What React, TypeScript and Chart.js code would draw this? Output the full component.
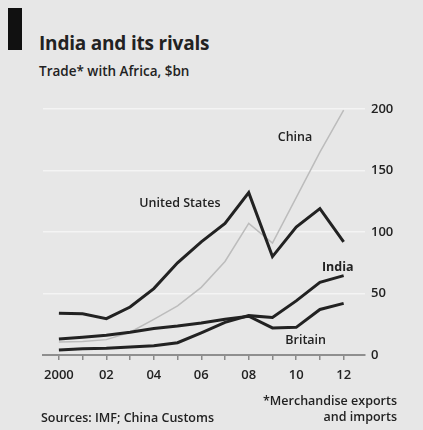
import React, { useEffect, useRef } from 'react';
import { Chart, registerables } from 'chart.js';
Chart.register(...registerables);

const years = [2000, 2001, 2002, 2003, 2004, 2005, 2006, 2007, 2008, 2009, 2010, 2011, 2012];
const xTickLabels = ['2000', '', '02', '', '04', '', '06', '', '08', '', '10', '', '12'];
const yTicks = [0, 50, 100, 150, 200];

const unitedStates = [34, 33.5, 29.5, 39, 54, 75, 92, 107, 132, 80, 104, 119, 92];
const china = [10.5, 11, 12.5, 18.5, 29, 40, 55, 76, 107, 91, 128, 165, 199];
const india = [4, 5, 5.5, 6.5, 7.5, 10, 18, 26.5, 32, 30.5, 44, 59, 64.5];
const britain = [13, 14.5, 16, 18.5, 21.5, 23.5, 26, 29, 31.5, 22, 22.5, 37, 42];

const seriesLabels = [
  { text: 'United States', x: 2005.1, y: 123.4, bold: false },
  { text: 'China', x: 2009.95, y: 177, bold: false },
  { text: 'India', x: 2011.75, y: 71.3, bold: true },
  { text: 'Britain', x: 2010.4, y: 11.8, bold: false },
];

const FONT = '"Open Sans", "Liberation Sans", Arial, sans-serif';
const BG = '#e7e7e7';
const INK = '#222222';

const toPts = (vals: number[]) => vals.map((v, i) => ({ x: years[i], y: v }));

const labelPlugin = {
  id: 'seriesLabels',
  afterDatasetsDraw(chart: any) {
    const { ctx, scales } = chart;
    ctx.save();
    ctx.fillStyle = INK;
    ctx.textAlign = 'center';
    ctx.textBaseline = 'middle';
    for (const l of seriesLabels) {
      ctx.font = `${l.bold ? 700 : 600} 12.5px ${FONT}`;
      ctx.fillText(l.text, scales.x.getPixelForValue(l.x), scales.y.getPixelForValue(l.y));
    }
    ctx.restore();
  },
};

export default function App() {
  const ref = useRef<HTMLCanvasElement>(null);
  useEffect(() => {
    if (!ref.current) return;
    const chart = new Chart(ref.current, {
      type: 'line',
      data: {
        datasets: [
          { label: 'United States', data: toPts(unitedStates), borderColor: INK, borderWidth: 3 },
          { label: 'India', data: toPts(india), borderColor: INK, borderWidth: 3 },
          { label: 'Britain', data: toPts(britain), borderColor: INK, borderWidth: 3 },
          { label: 'China', data: toPts(china), borderColor: '#bcbcbc', borderWidth: 1.5 },
        ],
      },
      options: {
        animation: false,
        responsive: false,
        devicePixelRatio: 1,
        elements: { point: { radius: 0 }, line: { tension: 0, borderJoinStyle: 'miter' as any } },
        layout: { padding: { left: 43, top: 109, right: 0, bottom: 0 } },
        plugins: { legend: { display: false }, tooltip: { enabled: false } },
        scales: {
          x: {
            type: 'linear',
            min: 1999.33,
            max: 2012.9,
            afterBuildTicks: (s: any) => { s.ticks = years.map((v) => ({ value: v })); },
            afterFit: (s: any) => { s.height = 75; },
            ticks: {
              autoSkip: false,
              maxRotation: 0,
              padding: 7,
              color: INK,
              font: { family: FONT, size: 13, weight: 600 as any },
              callback: (v: any) => xTickLabels[years.indexOf(Number(v))] ?? '',
            },
            grid: { drawOnChartArea: false, drawTicks: true, tickLength: 5, color: '#8a8a8a', lineWidth: 1.5 },
            border: { display: true, color: '#8f8f8f', width: 2 },
          },
          y: {
            type: 'linear',
            position: 'right',
            min: 0,
            max: 200,
            afterBuildTicks: (s: any) => { s.ticks = yTicks.map((v) => ({ value: v })); },
            afterFit: (s: any) => { s.width = 58; },
            ticks: {
              padding: 6,
              color: INK,
              font: { family: FONT, size: 13, weight: 600 as any },
            },
            grid: { drawTicks: false, color: '#f4f4f4', lineWidth: 1.5 },
            border: { display: false },
          },
        },
      },
      plugins: [labelPlugin],
    });
    return () => chart.destroy();
  }, []);

  const txt: React.CSSProperties = { position: 'absolute', fontFamily: FONT, color: INK, whiteSpace: 'nowrap', margin: 0 };
  return (
    <div style={{ position: 'fixed', left: 0, top: 0, width: 423, height: 430, background: BG, overflow: 'hidden' }}>
      <div style={{ position: 'absolute', left: 8, top: 8, width: 14, height: 42, background: '#111' }} />
      <div style={{ ...txt, left: 39, top: 31, fontSize: 19, fontWeight: 700, lineHeight: '24px', letterSpacing: '-0.2px' }}>India and its rivals</div>
      <div style={{ ...txt, left: 39, top: 62, fontSize: 13.5, fontWeight: 600, lineHeight: '18px' }}>Trade* with Africa, $bn</div>
      <canvas ref={ref} width={423} height={430} style={{ position: 'absolute', left: 0, top: 0, width: 423, height: 430 }} />
      <div style={{ ...txt, left: 41, top: 409, fontSize: 12.5, fontWeight: 600, lineHeight: '17px' }}>Sources: IMF; China Customs</div>
      <div style={{ ...txt, right: 26, top: 393, fontSize: 12.5, fontWeight: 600, lineHeight: '16px', textAlign: 'right' }}>
        *Merchandise exports<br />and imports
      </div>
    </div>
  );
}
